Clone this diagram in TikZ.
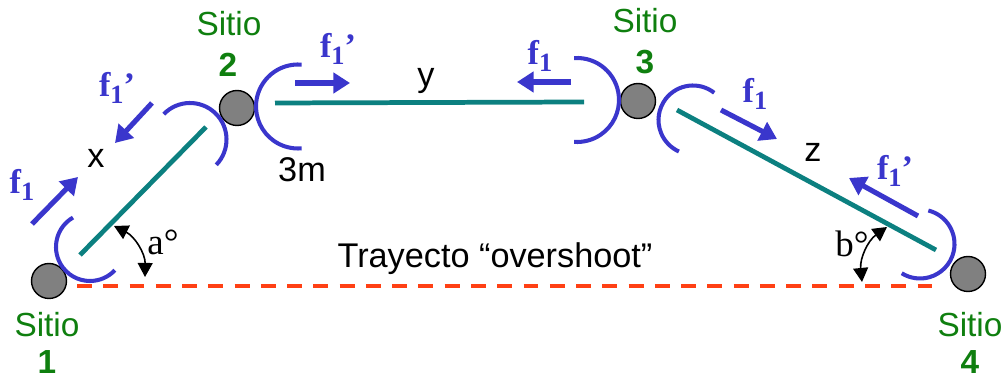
\documentclass[tikz,border=0pt]{standalone}
\usepackage{fontspec}
\setmainfont{Liberation Sans}
\newfontfamily\timesfont{Liberation Serif}
\usetikzlibrary{arrows.meta}
\definecolor{sitegreen}{HTML}{0F7F0F}
\definecolor{arcblue}{HTML}{3A36CC}
\definecolor{linkteal}{HTML}{0C8080}
\definecolor{pathred}{HTML}{FF4014}
\definecolor{sitegray}{HTML}{808080}
\newcommand{\fone}{f\raisebox{-0.22em}{\fontsize{15}{15}\selectfont 1}}
\begin{document}
\begin{tikzpicture}[x=0.02cm,y=-0.02cm,line join=round,
	font=\fontsize{19.5}{21}\selectfont,
	site/.style={circle,draw=black,fill=sitegray,line width=0.8pt,minimum size=35*0.5691pt,inner sep=0pt},
	sitename/.style={text=sitegreen,font=\fontsize{19}{21}\selectfont,inner sep=0pt},
	sitenum/.style={text=sitegreen,font=\fontsize{19}{21}\selectfont\bfseries,inner sep=0pt},
	link/.style={draw=linkteal,line width=2.7pt},
	flow/.style={draw=arcblue,line width=2.9pt,-{Triangle[length=9.5pt,width=11.5pt,fill=arcblue]}},
	flowname/.style={text=arcblue,font=\fontsize{19.5}{21}\selectfont\timesfont\bfseries,inner sep=0pt},
	bow/.style={draw=arcblue,line width=2.3pt},
	angarrow/.style={draw=black,line width=0.9pt,{Triangle[length=8pt,width=8.5pt]}-{Triangle[length=8pt,width=8.5pt]}},
	angname/.style={font=\fontsize{21}{23}\selectfont\timesfont,inner sep=0pt},
	]
	\useasboundingbox (0,0) rectangle (1004,377);
	% sitios
	\node[site] (S1) at (49,281) {};
	\node[site] (S2) at (237,108) {};
	\node[site] (S3) at (638,101) {};
	\node[site] (S4) at (968,274) {};
	\node[sitename] (N1) at (47,325) {Sitio};
	\node[sitenum] (D1) at (47,362) {1};
	\node[sitename] (N2) at (229,24) {Sitio};
	\node[sitenum] (D2) at (228,65) {2};
	\node[sitename] (N3) at (645,21) {Sitio};
	\node[sitenum] (D3) at (645,62) {3};
	\node[sitename] (N4) at (970,325) {Sitio};
	\node[sitenum] (D4) at (970,362) {4};
	% enlaces
	\coordinate (XA) at (80,255); \coordinate (XB) at (206,127);
	\coordinate (YA) at (275,103); \coordinate (YB) at (584,102);
	\coordinate (ZA) at (677,110); \coordinate (ZB) at (936,250);
	\coordinate (TA) at (77,286); \coordinate (TB) at (936,286);
	\draw[link] (XA)--(XB);
	\draw[link] (YA)--(YB);
	\draw[link] (ZA)--(ZB);
	\draw[draw=pathred,line width=2.3pt,dash pattern=on 8.5pt off 6.45pt] (TA)--(TB);
	% arcos
	\draw[bow] (90,247) ++(240:34) arc[start angle=240,end angle=43,radius=34];
	\draw[bow] (190,139.5) ++(224:36.5) arc[start angle=224,end angle=404,radius=36.5];
	\draw[bow] (298,106.5) ++(275:42) arc[start angle=275,end angle=85,radius=42];
	\draw[bow] (577,100) ++(266:42) arc[start angle=266,end angle=454,radius=42];
	\draw[bow] (693,120) ++(308:34.5) arc[start angle=308,end angle=114,radius=34.5];
	\draw[bow] (920,244) ++(284:34.5) arc[start angle=284,end angle=482,radius=34.5];
	% flechas f1
	\coordinate (FA) at (32,224); \coordinate (FB) at (78,177);
	\coordinate (GA) at (152,103); \coordinate (GB) at (115,143);
	\coordinate (HA) at (295,83); \coordinate (HB) at (350,83);
	\coordinate (IA) at (571,82); \coordinate (IB) at (517,82);
	\coordinate (JA) at (721,110); \coordinate (JB) at (777,139);
	\coordinate (KA) at (918,216); \coordinate (KB) at (849,178);
	\draw[flow] (FA)--(FB);
	\draw[flow] (GA)--(GB);
	\draw[flow] (HA)--(HB);
	\draw[flow] (IA)--(IB);
	\draw[flow] (JA)--(JB);
	\draw[flow] (KA)--(KB);
	\node[flowname] (L1) at (22,185) {\fone};
	\node[flowname] (L2) at (117,88) {\fone’};
	\node[flowname] (L3) at (338,49) {\fone’};
	\node[flowname] (L4) at (540,56) {\fone};
	\node[flowname] (L5) at (755,94) {\fone};
	\node[flowname] (L6) at (895,171) {\fone’};
	% angulos
	\coordinate (AA) at (114,226); \coordinate (AB) at (145,277);
	\coordinate (BA) at (887,227); \coordinate (BB) at (862,282);
	\draw[angarrow] (AA) to[bend left=32] (AB);
	\draw[angarrow] (BA) to[bend right=30] (BB);
	\node[angname] (AN) at (163,242) {a°};
	\node[angname] (BN) at (852,244) {b°};
	% textos
	\node (X) at (96,158) {x};
	\node (Y) at (426,81) {y};
	\node (Z) at (813,152) {z};
	\node (M) at (302,170) {3m};
	\node (T) at (495,259) {Trayecto “overshoot”};
\end{tikzpicture}
\end{document}
